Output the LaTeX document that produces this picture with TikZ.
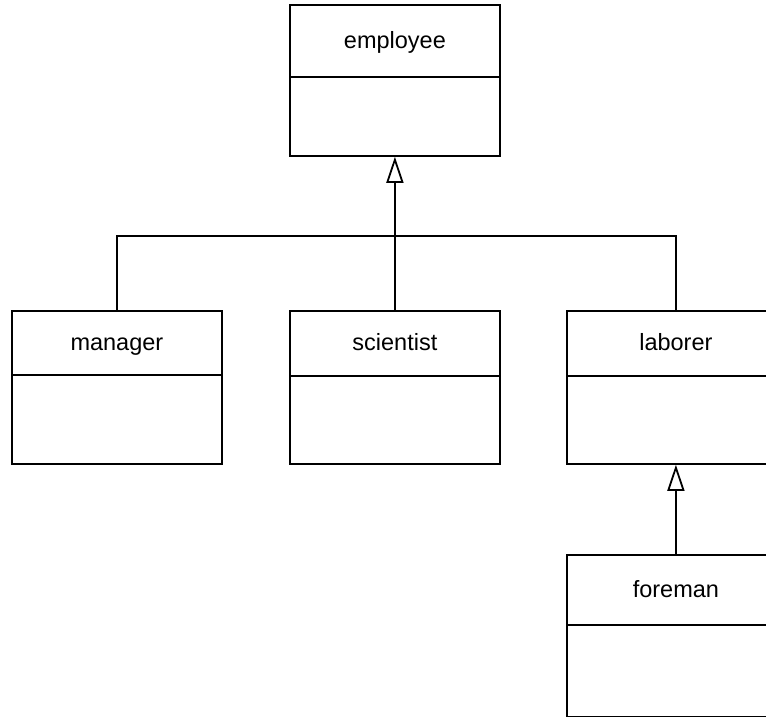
\documentclass[tikz,border=0pt]{standalone}
\usepackage{fontspec}
\setmainfont{Liberation Sans}
\usetikzlibrary{arrows.meta}
\tikzset{
  cls/.style={draw, line width=1.8pt, minimum width=210pt, inner sep=0pt, anchor=north west, fill=white},
  div/.style={line width=1.8pt},
  ttl/.style={font=\fontsize{23.5}{28}\selectfont, text height=0.72em, text depth=0.21em, inner sep=0pt},
  gen/.style={line width=1.8pt, -{Triangle[open, length=26pt, width=17pt, line width=1.8pt]}},
  link/.style={line width=1.8pt}
}
\begin{document}
\begin{tikzpicture}[x=1pt,y=-1pt]
\useasboundingbox (0,0) rectangle (766,717);
\clip (0,0) rectangle (766,717);
% employee
\node[cls, minimum height=151pt] (employee) at (289,4) {};
\draw[div] ([yshift=-73pt]employee.north west) -- ([yshift=-73pt]employee.north east);
\node[ttl] (employeet) at ([yshift=-42pt]employee.north) {employee};
% manager
\node[cls, minimum height=153pt] (manager) at (11,310) {};
\draw[div] ([yshift=-65pt]manager.north west) -- ([yshift=-65pt]manager.north east);
\node[ttl] (managert) at ([yshift=-37.5pt]manager.north) {manager};
% scientist
\node[cls, minimum height=153pt] (scientist) at (289,310) {};
\draw[div] ([yshift=-66pt]scientist.north west) -- ([yshift=-66pt]scientist.north east);
\node[ttl] (scientistt) at ([yshift=-37.5pt]scientist.north) {scientist};
% laborer
\node[cls, minimum height=153pt, minimum width=218pt] (laborer) at (566,310) {};
\draw[div] ([yshift=-66pt]laborer.north west) -- ([yshift=-66pt]laborer.north east);
\node[ttl] (laborert) at ([yshift=-37.5pt]laborer.north) {laborer};
% foreman
\node[cls, minimum height=162pt, minimum width=218pt] (foreman) at (566,554) {};
\draw[div] ([yshift=-71pt]foreman.north west) -- ([yshift=-71pt]foreman.north east);
\node[ttl] (foremant) at ([yshift=-40.5pt]foreman.north) {foreman};
% connectors
\coordinate (bus) at (394,236);
\draw[gen] (scientist.north) -- (employee.south);
\draw[link] (manager.north) |- (bus) -| (laborer.north);
\draw[gen] (foreman.north) -- (laborer.south);
\end{tikzpicture}
\end{document}
